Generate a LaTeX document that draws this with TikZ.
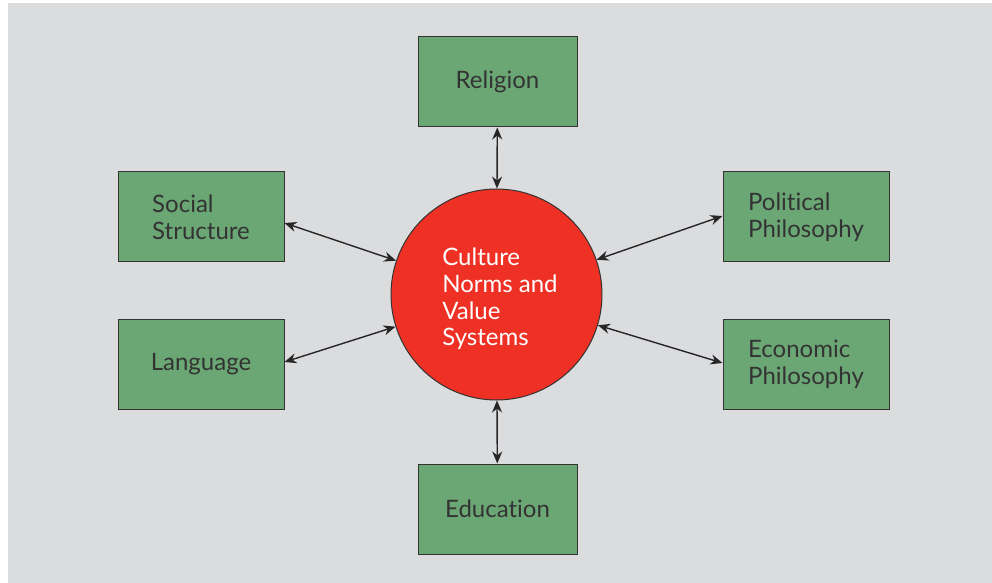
\documentclass[tikz,border=0pt]{standalone}
\usepackage{fontspec}
\setmainfont{Lato}[Ligatures=NoCommon]
\usetikzlibrary{arrows.meta}
\definecolor{bggrey}{RGB}{219,220,222}
\definecolor{boxgreen}{RGB}{107,167,116}
\definecolor{circred}{RGB}{238,49,36}
\definecolor{txtgrey}{RGB}{51,51,51}
\begin{document}
\begin{tikzpicture}[x=0.5pt,y=-0.5pt,
		factor/.style={draw=txtgrey,line width=0.5pt,fill=boxgreen,text=txtgrey,
			minimum width=83pt,minimum height=45pt,align=left,
			font=\fontsize{12}{13.4}\selectfont},
		link/.style={{Stealth[length=6pt,width=5pt]}-{Stealth[length=6pt,width=5pt]},
			line width=0.7pt,black!85}]
		\useasboundingbox (0,0) rectangle (992,583);
		\fill[bggrey] (8,3) rectangle (992,583);
		% centre
		\node[circle,draw=black!80,line width=0.5pt,fill=circred,
			minimum size=105.5pt,inner sep=0pt] (cul) at (496.5,294.5) {};
		\node[text=white,align=left,font=\fontsize{12}{13.4}\selectfont]
			(cultxt) at (500,299) {Culture\\Norms and\\Value\\Systems};
		
		\node[factor,minimum width=79.5pt] (rel) at (497.5,82) {Religion};
		\node[factor,minimum width=79.5pt] (edu) at (497.5,509) {Education};
		\node[factor] (soc) at (201,217) {Social\\Structure};
		\node[factor] (lan) at (201,364) {Language};
		\node[factor] (pol) at (806,217) {Political\\Philosophy};
		\node[factor] (eco) at (806,364) {Economic\\Philosophy};
		
		\draw[link] (rel) -- (cul);
		\draw[link] (edu) -- (cul);
		\draw[link] ([yshift=-3pt]soc.east) -- (cul);
		\draw[link] ([yshift=1pt]lan.east) -- (cul);
		\draw[link] ([yshift=0.5pt]pol.west) -- (cul);
		\draw[link] ([yshift=0.5pt]eco.west) -- (cul);
\end{tikzpicture}
\end{document}
